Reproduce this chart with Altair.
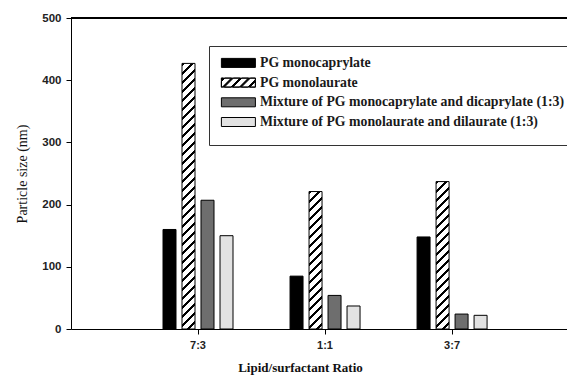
import altair as alt
import pandas as pd

ratios = ["7:3", "1:1", "3:7"]
series = [
    "PG monocaprylate",
    "PG monolaurate",
    "Mixture of PG monocaprylate and dicaprylate (1:3)",
    "Mixture of PG monolaurate and dilaurate (1:3)",
]
pg_monocaprylate = [160, 85, 148]
pg_monolaurate = [427, 221, 237]
mix_caprylate = [207, 54, 24]
mix_laurate = [150, 37, 22]

values = [pg_monocaprylate, pg_monolaurate, mix_caprylate, mix_laurate]
rows = []
for s, vals in zip(series, values):
    for r, v in zip(ratios, vals):
        rows.append({"ratio": r, "series": s, "size": v})
df = pd.DataFrame(rows)

PLOT_W, PLOT_H = 496, 311
Y_MAX = 500
BAR_W = 13


def hatch(w, h, period=9.0, frac=0.33):
    """Diagonal '/' stripes as a hard-stop linear gradient in bbox units."""
    L = w + h
    dt = period / L
    stops = []
    t = 0.0
    while t < 1.0:
        b = min(t + frac * dt, 1.0)
        c = min(t + dt, 1.0)
        stops += [
            {"offset": round(t, 5), "color": "#000000"},
            {"offset": round(b, 5), "color": "#000000"},
            {"offset": round(b, 5), "color": "#ffffff"},
            {"offset": round(c, 5), "color": "#ffffff"},
        ]
        t += dt
    s = (w + h) / (w * w + h * h)
    return {"gradient": "linear", "x1": 0, "y1": 0,
            "x2": s * w, "y2": s * h, "stops": stops}


conds = []
for r, v in zip(ratios, pg_monolaurate):
    h = v * PLOT_H / Y_MAX
    conds.append({
        "test": f"datum.series === '{series[1]}' && datum.ratio === '{r}'",
        "value": hatch(BAR_W, h),
    })

# ---- legend swatch shapes (34 x 9 px rectangles; one with hatch holes) ----
SW, SH = 34.0, 9.0
R = SH / 2.0            # symbol "radius" in px (symbolSize = SH**2)


def clip(poly, f):
    out = []
    n = len(poly)
    for i in range(n):
        p, q = poly[i], poly[(i + 1) % n]
        fp, fq = f(p), f(q)
        if fp >= 0:
            out.append(p)
        if (fp >= 0) != (fq >= 0):
            t = fp / (fp - fq)
            out.append((p[0] + t * (q[0] - p[0]), p[1] + t * (q[1] - p[1])))
    return out


def to_u(pt):
    return ((pt[0] - R) / R, (pt[1] - R) / R)


def path_of(poly, reverse=False):
    pts = [to_u(p) for p in poly]
    if reverse:
        pts = pts[::-1]
    return "M" + "L".join(f"{x:.4f},{y:.4f}" for x, y in pts) + "Z"


rect_poly = [(0, 0), (SW, 0), (SW, SH), (0, SH)]
rect_path = path_of(rect_poly)
P, BW, PH = 8.5, 2.0, 1.5
hatch_path = rect_path
k = -2
while k * P < SW + SH + P:
    a = k * P + PH + BW
    b = (k + 1) * P + PH
    poly = clip(rect_poly, lambda p, a=a: p[0] + p[1] - a)
    poly = clip(poly, lambda p, b=b: b - (p[0] + p[1])) if poly else poly
    if len(poly) >= 3:
        hatch_path += path_of(poly, reverse=True)
    k += 1

serif = "Liberation Serif"
sans = "Liberation Sans"

x_enc = alt.X(
    "ratio:N",
    sort=ratios,
    scale=alt.Scale(paddingInner=0.4016, paddingOuter=0.6531, align=0.5364),
    axis=alt.Axis(
        title="Lipid/surfactant Ratio",
        values=ratios,
        labelAngle=0,
        labelFont=sans, labelFontWeight="bold", labelFontSize=11,
        labelColor="#222222", labelPadding=5,
        tickSize=5, tickColor="#000000", domainColor="#000000",
        titleFont=serif, titleFontSize=13, titleFontWeight="bold",
        titleColor="#111111",
        titleX=229, titleY=42, titleBaseline="alphabetic",
    ),
)
xo_enc = alt.XOffset(
    "series:N", sort=series,
    scale=alt.Scale(paddingInner=0.316, paddingOuter=0.158),
)
y_enc = alt.Y(
    "size:Q",
    scale=alt.Scale(domain=[0, Y_MAX], nice=False),
    axis=alt.Axis(
        title="Particle size (nm)",
        values=[0, 100, 200, 300, 400, 500],
        grid=False,
        labelFont=sans, labelFontWeight="bold", labelFontSize=11.5,
        labelColor="#222222", labelPadding=5,
        tickSize=5, tickColor="#000000", domainColor="#000000",
        titleFont=serif, titleFontSize=14, titleFontWeight="normal",
        titleColor="#111111",
        titleX=-49, titleY=155.5, titleAlign="center",
        titleBaseline="middle",
    ),
)

fill_scale = alt.Scale(domain=series,
                       range=["#000000", "#000000", "#6e6e6e", "#e2e2e2"])

legend = alt.Legend(
    title=" ",
    titleOrient="bottom",
    titleFontSize=4,
    titlePadding=2,
    orient="none",
    legendX=138, legendY=28,
    direction="vertical",
    strokeColor="#333333",
    fillColor="#ffffff",
    padding=10,
    rowPadding=4.7,
    symbolSize=SH * SH,
    symbolStrokeWidth=1,
    symbolOpacity=1,
    labelFont=serif, labelFontSize=13.8, labelFontWeight="bold",
    labelColor="#1a1a1a",
    labelOffset=SW - SH + 2.2, labelLimit=0,
)

legend_pts = alt.Chart(df).mark_point(
    filled=False, opacity=0, stroke="#000000", strokeWidth=1
).encode(
    x=x_enc,
    xOffset=xo_enc,
    y=y_enc,
    fill=alt.Fill("series:N", sort=series, scale=fill_scale, legend=legend),
    shape=alt.Shape(
        "series:N", sort=series,
        scale=alt.Scale(domain=series,
                        range=[rect_path, hatch_path, rect_path, rect_path]),
        legend=legend,
    ),
)

bars = alt.Chart(df).mark_bar(stroke="#000000", strokeWidth=1).encode(
    x=x_enc,
    xOffset=xo_enc,
    y=y_enc,
    fill=alt.Fill("series:N", sort=series, scale=fill_scale,
                  condition=conds, legend=legend),
)

top_rule = alt.Chart(df).mark_rule(color="#000000", strokeWidth=1).encode(
    y=alt.datum(Y_MAX),
    x=alt.value(0),
    x2=alt.value(PLOT_W),
)

chart = alt.layer(legend_pts, bars, top_rule).properties(
    width=PLOT_W,
    height=PLOT_H,
    autosize=alt.AutoSizeParams(type="none"),
    padding={"left": 71, "top": 18, "right": 0, "bottom": 53},
    background="#ffffff",
).configure_view(stroke=None)

chart.save("out.html", embed_options={"renderer": "svg", "actions": False})
